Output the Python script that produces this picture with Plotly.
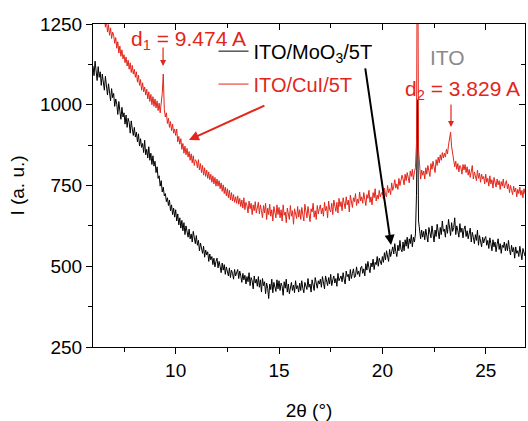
import numpy as np
import plotly.graph_objects as go

# 2-theta sampling: 6.00 ... 26.95 deg, 0.05 deg steps
two_theta = np.round(6.0 + 0.05 * np.arange(420), 2)

# ITO/MoO3/5T (black), one row per degree
i_moo3 = [
    1120, 1090, 1135, 1100, 1075, 1118, 1085, 1102, 1060, 1095, 1070, 1045, 1088, 1052, 1030, 1065, 1040, 1012, 1050, 1022,
    1035, 995, 1018, 1002, 970, 1010, 980, 955, 992, 962, 975, 940, 968, 930, 958, 945, 912, 950, 925, 905,
    930, 900, 915, 885, 910, 872, 895, 868, 880, 852, 890, 845, 862, 835, 870, 828, 850, 815, 842, 810,
    825, 790, 808, 772, 780, 748, 765, 730, 745, 718, 725, 700, 712, 688, 705, 672, 690, 660, 680, 652,
    675, 640, 662, 628, 650, 618, 642, 610, 635, 598, 625, 605, 590, 615, 585, 600, 575, 608, 580, 570,
    595, 565, 580, 548, 572, 555, 540, 562, 528, 550, 535, 545, 515, 538, 520, 530, 505, 525, 498, 515,
    525, 495, 515, 500, 480, 510, 488, 505, 475, 498, 482, 470, 495, 465, 488, 478, 460, 490, 470, 482,
    490, 462, 485, 470, 450, 478, 458, 472, 445, 468, 452, 480, 440, 465, 455, 430, 470, 448, 460, 438,
    468, 435, 458, 420, 462, 440, 452, 415, 448, 432, 400, 445, 428, 460, 418, 450, 435, 422, 458, 430,
    455, 425, 448, 438, 410, 452, 432, 460, 420, 445, 415, 438, 450, 425, 442, 418, 455, 430, 440, 420,
    448, 425, 455, 432, 418, 450, 440, 428, 462, 435, 445, 420, 458, 438, 425, 465, 440, 432, 455, 445,
    460, 435, 468, 448, 430, 470, 452, 440, 465, 445, 475, 440, 458, 470, 448, 462, 438, 478, 455, 465,
    470, 452, 480, 460, 445, 485, 468, 475, 455, 490, 462, 478, 492, 465, 470, 498, 475, 485, 468, 495,
    500, 478, 492, 470, 508, 488, 515, 495, 480, 510, 498, 522, 490, 512, 505, 530, 500, 525, 512, 505,
    530, 512, 542, 520, 548, 535, 515, 552, 530, 545, 560, 538, 570, 545, 530, 565, 548, 580, 552, 545,
    575, 548, 582, 562, 590, 555, 585, 570, 598, 560, 590, 575, 600, 720, 1015, 640, 605, 585, 612, 590,
    608, 582, 615, 590, 575, 620, 598, 588, 625, 600, 575, 612, 592, 630, 605, 585, 620, 598, 640, 608,
    615, 590, 628, 602, 645, 612, 595, 635, 608, 620, 650, 598, 625, 610, 590, 632, 605, 618, 588, 615,
    625, 592, 610, 585, 600, 618, 575, 605, 590, 570, 598, 580, 612, 565, 595, 578, 560, 590, 572, 585,
    592, 565, 580, 555, 588, 570, 548, 582, 560, 575, 545, 568, 585, 552, 570, 540, 565, 558, 575, 548,
    570, 548, 580, 552, 535, 565, 545, 558, 525, 560, 540, 548, 530, 562, 538, 520, 555, 545, 532, 548,
]

# ITO/CuI/5T (red), one row per degree
i_cui = [
    1350, 1320, 1338, 1305, 1325, 1295, 1310, 1280, 1298, 1265, 1250, 1278, 1240, 1262, 1225, 1248, 1215, 1238, 1205, 1225,
    1215, 1190, 1208, 1175, 1195, 1160, 1182, 1150, 1170, 1142, 1155, 1130, 1148, 1120, 1138, 1110, 1130, 1100, 1122, 1095,
    1110, 1085, 1102, 1070, 1092, 1060, 1078, 1045, 1068, 1040, 1055, 1030, 1048, 1018, 1040, 1010, 1032, 1000, 1025, 995,
    1018, 990, 1012, 982, 1005, 975, 1000, 1035, 1095, 985, 962, 975, 942, 958, 930, 948, 920, 940, 912, 925,
    905, 925, 885, 902, 878, 895, 862, 880, 850, 872, 845, 865, 838, 855, 828, 848, 820, 842, 812, 830,
    825, 805, 830, 798, 818, 790, 812, 782, 805, 778, 798, 772, 792, 768, 785, 760, 780, 755, 775, 748,
    770, 748, 765, 740, 758, 732, 752, 725, 745, 718, 740, 712, 735, 705, 728, 702, 722, 698, 715, 695,
    718, 692, 710, 685, 705, 680, 712, 675, 698, 688, 665, 702, 678, 695, 660, 690, 672, 700, 665, 685,
    698, 662, 690, 672, 650, 688, 665, 695, 645, 680, 660, 692, 655, 675, 640, 685, 668, 650, 690, 660,
    682, 650, 675, 640, 690, 658, 668, 635, 680, 662, 645, 688, 655, 672, 630, 678, 660, 648, 685, 652,
    675, 645, 682, 658, 640, 692, 665, 650, 685, 660, 638, 678, 668, 695, 652, 672, 645, 688, 662, 678,
    690, 662, 680, 655, 698, 672, 685, 650, 702, 675, 668, 695, 660, 705, 682, 670, 698, 665, 710, 685,
    700, 672, 712, 688, 678, 715, 690, 705, 668, 720, 695, 682, 712, 700, 725, 688, 708, 695, 730, 702,
    715, 695, 728, 705, 688, 722, 710, 735, 698, 715, 690, 728, 712, 740, 702, 720, 708, 735, 715, 725,
    730, 708, 742, 722, 715, 750, 728, 740, 722, 758, 735, 748, 768, 742, 755, 738, 772, 750, 765, 782,
    770, 752, 785, 765, 790, 772, 758, 795, 778, 800, 768, 792, 805, 880, 1700, 860, 790, 770, 798, 782,
    795, 770, 805, 785, 812, 792, 778, 818, 800, 825, 805, 790, 830, 812, 838, 820, 845, 828, 852, 835,
    850, 838, 862, 848, 875, 895, 915, 870, 852, 835, 808, 825, 800, 818, 792, 812, 805, 785, 815, 798,
    815, 790, 808, 782, 800, 775, 795, 812, 770, 792, 780, 765, 798, 772, 788, 760, 785, 770, 778, 755,
    785, 760, 772, 748, 780, 755, 768, 742, 775, 758, 745, 770, 752, 765, 738, 762, 748, 770, 742, 755,
    765, 740, 755, 728, 750, 735, 722, 748, 730, 742, 715, 738, 725, 745, 720, 735, 712, 740, 725, 730,
]

RED = '#e2261b'
FONT = 'Liberation Sans, Arial, sans-serif'

fig = go.Figure()

fig.add_trace(go.Scatter(
    x=two_theta, y=i_moo3, mode='lines',
    name='ITO/MoO<sub>3</sub>/5T',
    line=dict(color='black', width=1),
    legend='legend', showlegend=True
))
fig.add_trace(go.Scatter(
    x=two_theta, y=i_cui, mode='lines',
    name='ITO/CuI/5T',
    line=dict(color=RED, width=1),
    legend='legend2', showlegend=True
))
# empty trace so the mirrored (inside-tick) axes get drawn
fig.add_trace(go.Scatter(x=[], y=[], xaxis='x2', yaxis='y2', showlegend=False))

x_range = [6, 26.9]
y_range = [250, 1250]

fig.update_layout(
    width=528, height=421,
    margin=dict(l=93, r=3, t=24, b=74),
    paper_bgcolor='white', plot_bgcolor='white',
    font=dict(family=FONT, size=19, color='black'),
    showlegend=True,
    xaxis=dict(
        range=x_range, tick0=0, dtick=5, automargin=False,
        ticks='outside', ticklen=6, tickwidth=1, tickcolor='black',
        minor=dict(ticks='outside', dtick=2.5, tick0=0, ticklen=4, tickcolor='black', showgrid=False),
        showline=True, linecolor='black', linewidth=1, mirror=True,
        showgrid=False, zeroline=False,
        title=dict(text='2θ (°)', standoff=24, font=dict(size=19)),
    ),
    yaxis=dict(
        range=y_range, tick0=0, dtick=250, automargin=False,
        ticks='outside', ticklen=6, tickwidth=1, tickcolor='black',
        minor=dict(ticks='outside', dtick=125, tick0=0, ticklen=4, tickcolor='black', showgrid=False),
        showline=True, linecolor='black', linewidth=1, mirror=True,
        showgrid=False, zeroline=False,
        title=dict(text='I (a. u.)', standoff=10, font=dict(size=19)),
    ),
    xaxis2=dict(
        overlaying='x', side='top', anchor='y', range=x_range, tick0=0, dtick=5,
        automargin=False,
        ticks='inside', ticklen=6, tickcolor='black', showticklabels=False,
        minor=dict(ticks='inside', dtick=2.5, tick0=0, ticklen=4, tickcolor='black'),
        showgrid=False, zeroline=False, showline=False,
    ),
    yaxis2=dict(
        overlaying='y', side='right', anchor='x', range=y_range, tick0=0, dtick=250,
        automargin=False,
        ticks='inside', ticklen=6, tickcolor='black', showticklabels=False,
        minor=dict(ticks='inside', dtick=125, tick0=0, ticklen=4, tickcolor='black'),
        showgrid=False, zeroline=False, showline=False,
    ),
    legend=dict(x=0.279, y=0.916, xanchor='left', yanchor='middle',
                bgcolor='rgba(0,0,0,0)', font=dict(size=20, color='black')),
    legend2=dict(x=0.279, y=0.814, xanchor='left', yanchor='middle',
                 bgcolor='rgba(0,0,0,0)', font=dict(size=20, color=RED)),
)

annotations = [
    # labels
    dict(x=10.64, y=1200, text='d<sub>1</sub> = 9.474 A', showarrow=False,
         font=dict(size=21, color=RED)),
    dict(x=23.13, y=1145, text='ITO', showarrow=False,
         font=dict(size=21, color='#8a8a8a')),
    dict(x=23.9, y=1046, text='d<sub>2</sub> = 3.829 A', showarrow=False,
         font=dict(size=21, color=RED)),
    # arrows
    dict(x=9.39, y=1120, ax=0, ay=-20, text='', showarrow=True,
         arrowhead=2, arrowsize=1, arrowwidth=1.2, arrowcolor=RED),
    dict(x=23.32, y=931, ax=0, ay=-24, text='', showarrow=True,
         arrowhead=2, arrowsize=1, arrowwidth=1.2, arrowcolor=RED),
    dict(x=10.64, y=891, ax=77, ay=-35, text='', showarrow=True,
         arrowhead=2, arrowsize=1, arrowwidth=2, arrowcolor=RED),
    dict(x=20.42, y=566, ax=-26, ay=-178, text='', showarrow=True,
         arrowhead=2, arrowsize=1, arrowwidth=2, arrowcolor='black'),
]
fig.update_layout(annotations=annotations)

fig.write_html("out.html", config={'displayModeBar': False},
               post_script="document.body.style.margin='0';")
